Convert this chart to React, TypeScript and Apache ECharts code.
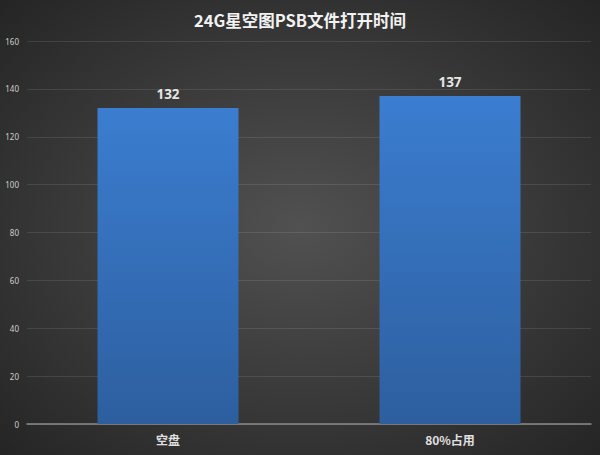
import React, { useEffect, useRef } from "react";
import * as echarts from "echarts";

const categories = ["空盘", "80%占用"];
const values = [132, 137];
const titleText = "24G星空图PSB文件打开时间";

export default function App() {
  const ref = useRef<HTMLDivElement>(null);
  useEffect(() => {
    document.body.style.margin = "0";
    const chart = echarts.init(ref.current!, null, { renderer: "svg" });
    chart.setOption({
      animation: false,
      backgroundColor: {
        type: "radial",
        x: 0.5,
        y: 0.5,
        r: 0.75,
        colorStops: [
          { offset: 0, color: "#515151" },
          { offset: 1, color: "#222222" },
        ],
      },
      title: {
        text: titleText,
        left: "center",
        top: 7,
        textStyle: {
          color: "#f2f2f2",
          fontSize: 16.5,
          fontWeight: "bold",
          fontFamily: "Noto Sans CJK SC",
        },
      },
      grid: { left: 27, right: 9, top: 41, bottom: 31 },
      xAxis: {
        type: "category",
        data: categories,
        axisTick: { show: false },
        axisLine: { lineStyle: { color: "#8a8a8a", width: 1.5 } },
        axisLabel: {
          color: "#e0e0e0",
          fontSize: 12,
          fontWeight: "bold",
          margin: 9,
          fontFamily: "Noto Sans CJK SC",
        },
      },
      yAxis: {
        type: "value",
        min: 0,
        max: 160,
        interval: 20,
        axisLine: { show: false },
        axisTick: { show: false },
        axisLabel: {
          color: "#cfcfcf",
          fontSize: 8,
          margin: 8,
          fontFamily: "Noto Sans",
        },
        splitLine: { lineStyle: { color: "rgba(255,255,255,0.1)", width: 1 } },
      },
      series: [
        {
          type: "bar",
          data: values,
          barWidth: "50%",
          itemStyle: {
            color: {
              type: "linear",
              x: 0,
              y: 0,
              x2: 0,
              y2: 1,
              colorStops: [
                { offset: 0, color: "#3b7dd0" },
                { offset: 1, color: "#2d5f9f" },
              ],
            },
          },
          label: {
            show: true,
            position: "top",
            distance: 7,
            color: "#e6e6e6",
            fontSize: 13.5,
            fontWeight: "bold",
            fontFamily: "Noto Sans",
          },
        },
      ],
    });
    return () => chart.dispose();
  }, []);
  return (
    <div
      ref={ref}
      style={{ position: "absolute", left: 0, top: 0, width: 600, height: 455 }}
    />
  );
}
